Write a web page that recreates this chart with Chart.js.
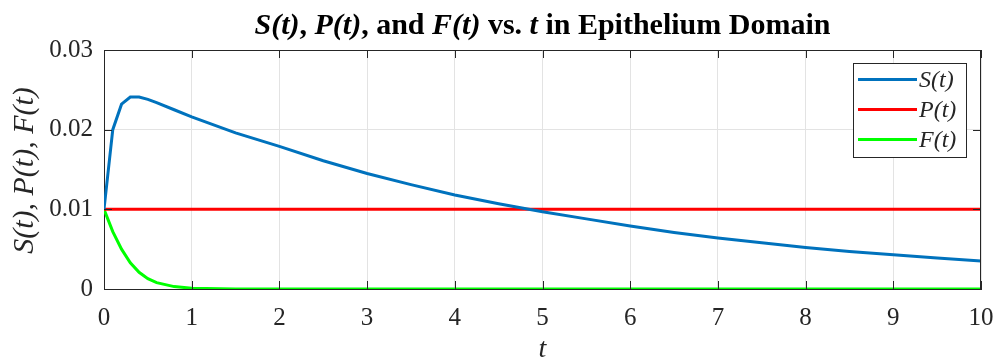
<!DOCTYPE html>
<html>
<head>
<meta charset="utf-8">
<script src="https://cdn.jsdelivr.net/npm/chart.js@4.4.1/dist/chart.umd.min.js"></script>
<style>
html,body{margin:0;padding:0;background:#fff;}
#wrap{width:996px;height:362px;}
</style>
</head>
<body>
<div id="wrap"><canvas id="c" width="996" height="362"></canvas></div>
<script>
// ---- data ----
const tValues = [0, 0.1, 0.2, 0.3, 0.4, 0.5, 0.6, 0.8, 1, 1.5, 2, 2.5, 3, 3.5, 4, 4.5, 5, 5.5, 6, 6.5, 7, 7.5, 8, 8.5, 9, 9.5, 10];
const sValues = [0.0100, 0.0200, 0.0232, 0.0241, 0.0241, 0.0238, 0.0234, 0.0225, 0.0216, 0.0196, 0.0179, 0.0161, 0.0145, 0.0131, 0.0118, 0.0107, 0.0097, 0.0088, 0.0079, 0.0071, 0.0064, 0.0058, 0.0052, 0.0047, 0.0043, 0.0039, 0.0035];
const pValues = [0.01, 0.01, 0.01, 0.01, 0.01, 0.01, 0.01, 0.01, 0.01, 0.01, 0.01, 0.01, 0.01, 0.01, 0.01, 0.01, 0.01, 0.01, 0.01, 0.01, 0.01, 0.01, 0.01, 0.01, 0.01, 0.01, 0.01];
const fValues = [0.0100, 0.0072, 0.0050, 0.0033, 0.0021, 0.0013, 0.0008, 0.0003, 0.0001, 0, 0, 0, 0, 0, 0, 0, 0, 0, 0, 0, 0, 0, 0, 0, 0, 0, 0];
const seriesLabels = ['S(t)', 'P(t)', 'F(t)'];
const xTickLabels = ['0', '1', '2', '3', '4', '5', '6', '7', '8', '9', '10'];
const yTickLabels = ['0', '0.01', '0.02', '0.03'];
const titleParts = [['S(t)', true], [', ', false], ['P(t)', true], [', and ', false], ['F(t)', true], [' vs. ', false], ['t', true], [' in Epithelium Domain', false]];
const xAxisTitle = 't';
const yAxisTitle = 'S(t), P(t), F(t)';

const SERIF = '"Liberation Serif", "Times New Roman", serif';
const AX = '#262626';
const TXT = '#262626';

function pts(ys) { return tValues.map((t, i) => ({x: t, y: ys[i]})); }

const decor = {
  id: 'decor',
  afterDatasetsDraw(chart) {
    const ctx = chart.ctx, a = chart.chartArea;
    const xs = chart.scales.x, ys = chart.scales.y;
    ctx.save();
    // box top & right
    ctx.strokeStyle = AX; ctx.lineWidth = 1;
    ctx.beginPath();
    ctx.moveTo(a.left, a.top + 0.5); ctx.lineTo(a.right, a.top + 0.5);
    ctx.moveTo(a.right - 0.5, a.top); ctx.lineTo(a.right - 0.5, a.bottom);
    ctx.stroke();
    // inward tick marks
    ctx.beginPath();
    xs.ticks.forEach(tk => {
      const x = Math.round(xs.getPixelForValue(tk.value)) + 0.5;
      ctx.moveTo(x, a.bottom); ctx.lineTo(x, a.bottom - 8);
      ctx.moveTo(x, a.top); ctx.lineTo(x, a.top + 8);
    });
    ys.ticks.forEach(tk => {
      const y = Math.round(ys.getPixelForValue(tk.value)) + 0.5;
      ctx.moveTo(a.left, y); ctx.lineTo(a.left + 8, y);
      ctx.moveTo(a.right, y); ctx.lineTo(a.right - 8, y);
    });
    ctx.stroke();

    // legend (inside plot, top-right)
    const lx = a.right - 128, ly = a.top + 13, lw = 113, lh = 94;
    ctx.fillStyle = '#fff';
    ctx.fillRect(lx, ly, lw, lh);
    ctx.strokeStyle = AX; ctx.lineWidth = 1;
    ctx.strokeRect(lx + 0.5, ly + 0.5, lw, lh);
    chart.data.datasets.forEach((ds, i) => {
      const y = ly + 16.5 + i * 30;
      ctx.strokeStyle = ds.borderColor; ctx.lineWidth = 3;
      ctx.beginPath(); ctx.moveTo(lx + 5, y); ctx.lineTo(lx + 64, y); ctx.stroke();
      ctx.fillStyle = TXT;
      ctx.font = 'italic 24px ' + SERIF;
      ctx.textAlign = 'left'; ctx.textBaseline = 'middle';
      ctx.fillText(ds.label, lx + 66, y + 1);
    });

    // title (mixed italic)
    ctx.fillStyle = '#000';
    ctx.textBaseline = 'alphabetic';
    let total = 0;
    titleParts.forEach(([s, it]) => {
      ctx.font = (it ? 'italic ' : '') + 'bold 30px ' + SERIF;
      total += ctx.measureText(s).width;
    });
    let x = (a.left + a.right) / 2 - total / 2;
    titleParts.forEach(([s, it]) => {
      ctx.font = (it ? 'italic ' : '') + 'bold 30px ' + SERIF;
      ctx.textAlign = 'left';
      ctx.fillText(s, x, 34);
      x += ctx.measureText(s).width;
    });

    // axis titles
    ctx.fillStyle = TXT;
    ctx.font = 'italic 28px ' + SERIF;
    ctx.textAlign = 'center'; ctx.textBaseline = 'middle';
    ctx.fillText(xAxisTitle, (a.left + a.right) / 2, 350);
    ctx.save();
    ctx.font = 'italic 30px ' + SERIF;
    ctx.translate(25, (a.top + a.bottom) / 2 + 1);
    ctx.rotate(-Math.PI / 2);
    ctx.fillText(yAxisTitle, 0, 0);
    ctx.restore();
    ctx.restore();
  }
};

new Chart(document.getElementById('c'), {
  type: 'line',
  data: {
    datasets: [
      {label: seriesLabels[0], data: pts(sValues), borderColor: '#0072BD', borderWidth: 3, pointRadius: 0, tension: 0},
      {label: seriesLabels[1], data: pts(pValues), borderColor: '#FF0000', borderWidth: 3, pointRadius: 0, tension: 0},
      {label: seriesLabels[2], data: pts(fValues), borderColor: '#00FF00', borderWidth: 3, pointRadius: 0, tension: 0}
    ]
  },
  options: {
    responsive: false,
    animation: false,
    devicePixelRatio: 1,
    layout: {padding: {top: 50, right: 15, left: 0, bottom: 0}},
    plugins: {legend: {display: false}, title: {display: false}, tooltip: {enabled: false}},
    scales: {
      x: {
        type: 'linear', min: 0, max: 10,
        ticks: {stepSize: 1, color: TXT, font: {family: SERIF, size: 25}, padding: 14, maxRotation: 0,
                callback: (v, i) => xTickLabels[i]},
        grid: {color: '#e3e3e3', lineWidth: 1, drawTicks: false},
        border: {display: true, color: AX, width: 1},
        afterFit: s => { s.height = 73; s.paddingLeft = 0; s.paddingRight = 0; }
      },
      y: {
        min: 0, max: 0.03,
        ticks: {stepSize: 0.01, color: TXT, font: {family: SERIF, size: 25}, padding: 11,
                callback: (v, i) => yTickLabels[i]},
        grid: {color: '#e3e3e3', lineWidth: 1, drawTicks: false},
        border: {display: true, color: AX, width: 1},
        afterFit: s => { s.width = 104; s.paddingTop = 0; s.paddingBottom = 0; }
      }
    }
  },
  plugins: [decor]
});
</script>
</body>
</html>
